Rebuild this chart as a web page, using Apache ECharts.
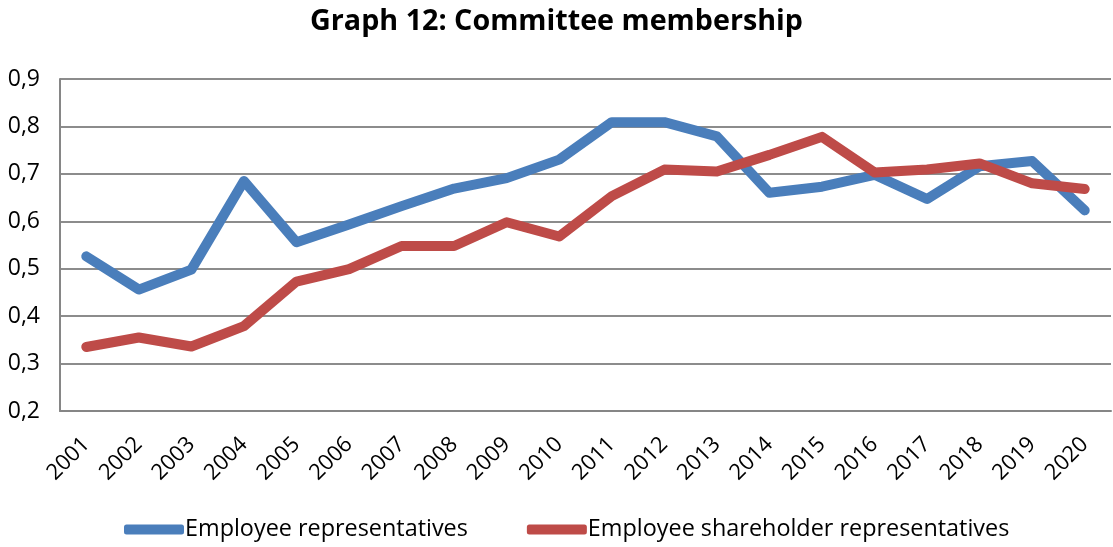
<!DOCTYPE html>
<html><head><meta charset="utf-8">
<script src="https://cdn.jsdelivr.net/npm/echarts@6/dist/echarts.min.js"></script>
<style>html,body{margin:0;padding:0;background:#fff}#c{width:1113px;height:547px}</style>
</head><body><div id="c"></div>
<script>
const years = ['2001','2002','2003','2004','2005','2006','2007','2008','2009','2010','2011','2012','2013','2014','2015','2016','2017','2018','2019','2020'];
const employeeReps = [0.526,0.456,0.498,0.685,0.556,0.593,0.632,0.669,0.691,0.730,0.809,0.809,0.779,0.660,0.673,0.698,0.647,0.716,0.727,0.623];
const shareholderReps = [0.335,0.355,0.336,0.379,0.473,0.499,0.548,0.548,0.598,0.568,0.653,0.709,0.705,0.740,0.778,0.703,0.709,0.722,0.680,0.668];
const seriesNames = ['Employee representatives','Employee shareholder representatives'];
const FONT = 'Open Sans';
const chart = echarts.init(document.getElementById('c'));
chart.setOption({
  animation:false,
  backgroundColor:'#fff',
  title:{text:'Graph 12: Committee membership',left:'center',top:2,
    textStyle:{fontFamily:FONT,fontSize:28.7,fontWeight:'bold',color:'#000'}},
  grid:{left:60,right:2,top:79,bottom:136,containLabel:false},
  legend:{bottom:1,left:119,itemWidth:60,itemHeight:10,itemGap:59,icon:'roundRect',
    textStyle:{fontFamily:FONT,fontSize:23.4,color:'#000',padding:[0,0,0,-4]},
    data:seriesNames},
  xAxis:{type:'category',data:years,boundaryGap:true,
    axisLine:{show:true,lineStyle:{color:'#868686',width:2}},
    axisTick:{show:false},
    axisLabel:{rotate:45,fontFamily:FONT,fontSize:22,color:'#000',margin:30,interval:0}},
  yAxis:{type:'value',min:0.2,max:0.9,interval:0.1,
    axisLine:{show:true,lineStyle:{color:'#868686',width:2}},
    axisTick:{show:false},
    splitLine:{lineStyle:{color:'#8c8c8c',width:2}},
    axisLabel:{fontFamily:FONT,fontSize:23,color:'#000',margin:20,
      formatter:v=>v.toFixed(1).replace('.',',')}},
  series:[
    {name:seriesNames[0],type:'line',data:employeeReps,symbol:'none',
      lineStyle:{color:'#4a7ebb',width:10,cap:'round',join:'round'},itemStyle:{color:'#4a7ebb'}},
    {name:seriesNames[1],type:'line',data:shareholderReps,symbol:'none',
      lineStyle:{color:'#be4b48',width:10,cap:'round',join:'round'},itemStyle:{color:'#be4b48'}}
  ]
});
</script></body></html>
